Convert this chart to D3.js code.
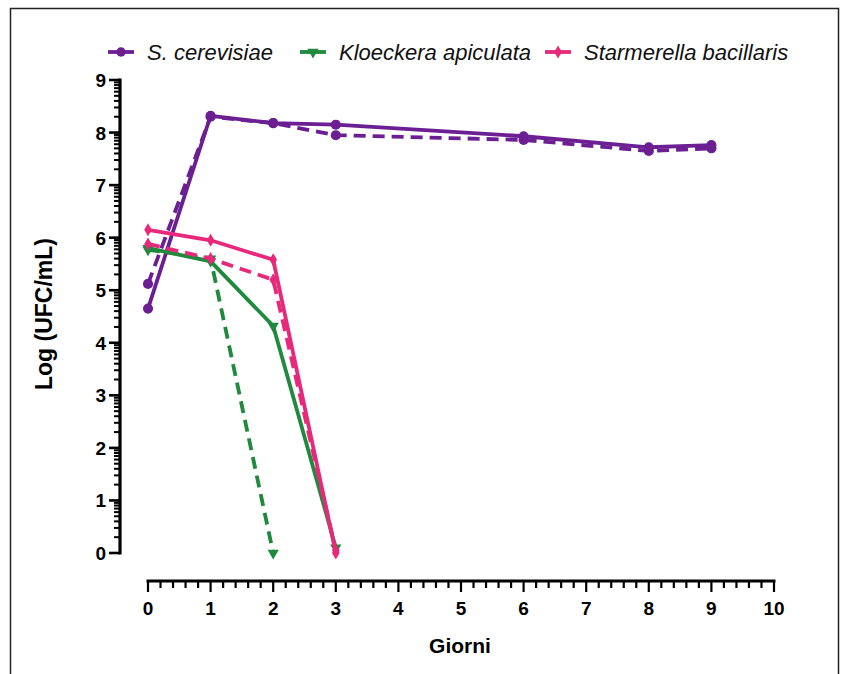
<!DOCTYPE html>
<html>
<head>
<meta charset="utf-8">
<script src="https://cdn.jsdelivr.net/npm/d3@7"></script>
<style>
  body { margin: 0; background: #fff; }
  text { font-family: "Liberation Sans", Arial, sans-serif; }
</style>
</head>
<body>
<div id="chart"></div>
<script>
// days and values
const days = [0, 1, 2, 3, 6, 8, 9];
const scSolid = [4.65, 8.32, 8.18, 8.15, 7.93, 7.72, 7.76];
const scDashed = [5.12, 8.30, 8.18, 7.95, 7.86, 7.65, 7.70];
const kaDays = [0, 1, 2, 3];
const kaSolid = [5.80, 5.55, 4.32, 0.10];
const kaDashedDays = [0, 1, 2];
const kaDashed = [5.77, 5.60, 0.0];
const sbDays = [0, 1, 2, 3];
const sbSolid = [6.15, 5.95, 5.58, 0.0];
const sbDashed = [5.88, 5.60, 5.20, 0.05];

const xTicks = d3.range(0, 11);
const yTicks = d3.range(0, 10);
const legendNames = ["S. cerevisiae", "Kloeckera apiculata", "Starmerella bacillaris"];

const purple = "#6b1f93", green = "#1f8a3d", pink = "#e8287a";

const W = 842, H = 674;
const svg = d3.select("#chart").append("svg")
    .attr("width", W)
    .attr("height", H);

// outer frame
svg.append("rect")
    .attr("x", 10.5).attr("y", 8.5)
    .attr("width", 828).attr("height", 700)
    .attr("fill", "none")
    .attr("stroke", "#222")
    .attr("stroke-width", 1.5);

const x = d3.scaleLinear().domain([0, 10]).range([148, 774]);
const y = d3.scaleLinear().domain([0, 9]).range([553, 80]);

// x axis (offset from y axis, like graphpad)
const xAxisY = 581;
const xg = svg.append("g").attr("transform", `translate(0,${xAxisY})`);
xg.append("line")
    .attr("x1", x(0) - 1.5).attr("x2", x(10) + 1.5)
    .attr("stroke", "#000").attr("stroke-width", 3.2);
xg.selectAll(".minor")
  .data(d3.range(0, 10.01, 0.2))
  .enter().append("line")
    .attr("x1", d => x(d)).attr("x2", d => x(d))
    .attr("y1", 0).attr("y2", d => Math.abs(d - Math.round(d)) < 1e-6 ? 11 : 7)
    .attr("stroke", "#000").attr("stroke-width", 2.2);
xg.selectAll(".lbl")
  .data(xTicks)
  .enter().append("text")
    .attr("x", d => x(d)).attr("y", 34)
    .attr("text-anchor", "middle")
    .attr("font-size", 19).attr("font-weight", "bold")
    .text(d => d);

svg.append("text")
    .attr("x", x(5) - 1).attr("y", 653)
    .attr("text-anchor", "middle")
    .attr("font-size", 21).attr("font-weight", "bold")
    .text("Giorni");

// y axis, log-style minor ticks
const yAxisX = 120;
const yg = svg.append("g").attr("transform", `translate(${yAxisX},0)`);
yg.append("line")
    .attr("y1", y(0) + 1.5).attr("y2", y(9) - 1.5)
    .attr("stroke", "#000").attr("stroke-width", 3.2);
const yMinor = [];
d3.range(0, 9).forEach(n => d3.range(2, 10).forEach(k => yMinor.push(n + Math.log10(k))));
yg.selectAll(".minor")
  .data(yMinor)
  .enter().append("line")
    .attr("y1", d => y(d)).attr("y2", d => y(d))
    .attr("x1", 0).attr("x2", -6)
    .attr("stroke", "#000").attr("stroke-width", 2);
yg.selectAll(".major")
  .data(yTicks)
  .enter().append("line")
    .attr("y1", d => y(d)).attr("y2", d => y(d))
    .attr("x1", 0).attr("x2", -11)
    .attr("stroke", "#000").attr("stroke-width", 2.6);
yg.selectAll(".lbl")
  .data(yTicks)
  .enter().append("text")
    .attr("x", -14).attr("y", d => y(d) + 7)
    .attr("text-anchor", "end")
    .attr("font-size", 19).attr("font-weight", "bold")
    .text(d => d);

svg.append("text")
    .attr("transform", "translate(52,314) rotate(-90)")
    .attr("text-anchor", "middle")
    .attr("font-size", 23).attr("font-weight", "bold")
    .text("Log (UFC/mL)");

// series
const line = d3.line().x(d => x(d[0])).y(d => y(d[1]));
const series = [
  {xs: days, ys: scDashed, color: purple, dash: true, sym: d3.symbolCircle, size: 80},
  {xs: days, ys: scSolid, color: purple, dash: false, sym: d3.symbolCircle, size: 80},
  {xs: kaDashedDays, ys: kaDashed, color: green, dash: true, sym: d3.symbolTriangle, size: 55, rot: 180},
  {xs: kaDays, ys: kaSolid, color: green, dash: false, sym: d3.symbolTriangle, size: 55, rot: 180},
  {xs: sbDays, ys: sbDashed, color: pink, dash: true, sym: d3.symbolDiamond, size: 50},
  {xs: sbDays, ys: sbSolid, color: pink, dash: false, sym: d3.symbolDiamond, size: 50}
];

series.forEach(s => {
  const pts = s.xs.map((d, i) => [d, s.ys[i]]);
  svg.append("path")
      .attr("d", line(pts))
      .attr("fill", "none")
      .attr("stroke", s.color)
      .attr("stroke-width", 3.8)
      .attr("stroke-dasharray", s.dash ? "12,7" : null);
  svg.selectAll(null)
    .data(pts)
    .enter().append("path")
      .attr("d", d3.symbol().type(s.sym).size(s.size))
      .attr("transform", d => `translate(${x(d[0])},${y(d[1])}) rotate(${s.rot || 0})`)
      .attr("fill", s.color);
});

// legend
const legendX = [108, 300, 545];
const legendSym = [
  {color: purple, sym: d3.symbolCircle, size: 70, rot: 0},
  {color: green, sym: d3.symbolTriangle, size: 55, rot: 180},
  {color: pink, sym: d3.symbolDiamond, size: 50, rot: 0}
];
legendNames.forEach((name, i) => {
  const g = svg.append("g").attr("transform", `translate(${legendX[i]},52)`);
  g.append("line")
      .attr("x1", 0).attr("x2", 26)
      .attr("stroke", legendSym[i].color).attr("stroke-width", 3.8);
  g.append("path")
      .attr("d", d3.symbol().type(legendSym[i].sym).size(legendSym[i].size))
      .attr("transform", `translate(13,0) rotate(${legendSym[i].rot})`)
      .attr("fill", legendSym[i].color);
  g.append("text")
      .attr("x", 39).attr("y", 8)
      .attr("font-size", 22).attr("font-style", "italic")
      .attr("fill", "#111")
      .text(name);
});
</script>
</body>
</html>
